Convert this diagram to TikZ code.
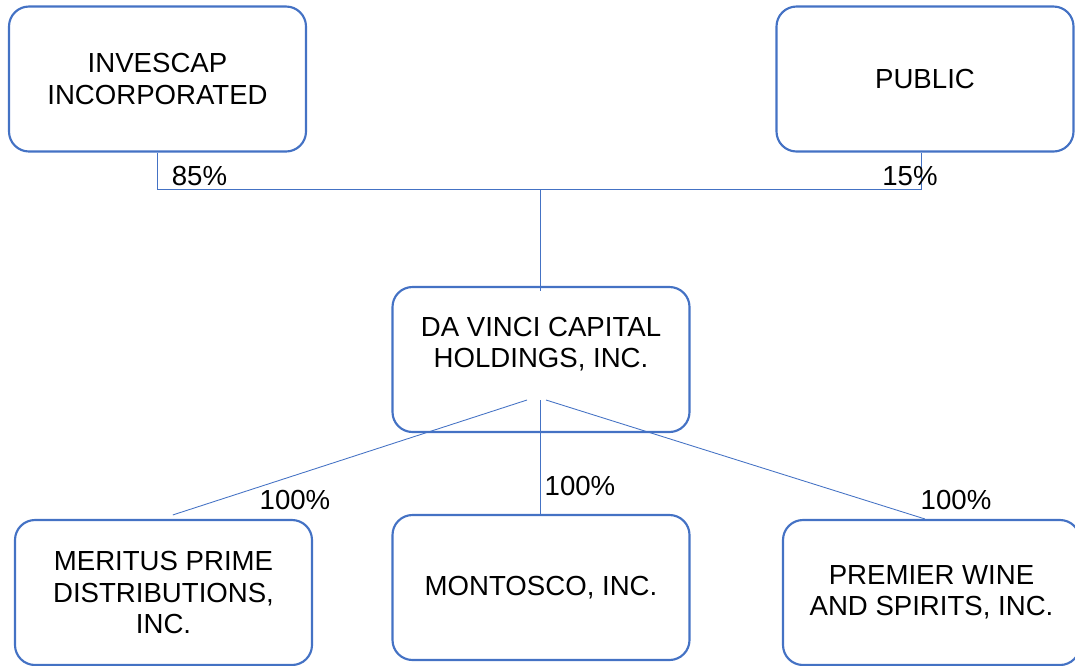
\documentclass[tikz,border=0pt]{standalone}
\usepackage{fontspec}
\setmainfont{Liberation Sans}
\definecolor{orgblue}{HTML}{4472C4}
\begin{document}
\begin{tikzpicture}[x=0.75pt, y=-0.75pt,
  every node/.style={font=\fontsize{20.7pt}{23.5pt}\selectfont},
  box/.style={draw=orgblue, line width=1.6pt, rounded corners=15pt, minimum width=222.75pt, minimum height=108.75pt, align=center, inner sep=0pt},
  txt/.style={align=center, inner sep=0pt},
  link/.style={draw=orgblue, line width=0.65pt}]
\useasboundingbox (0,0) rectangle (1075,665);
\node[box] (invescap) at (157.5,79) {INVESCAP\\INCORPORATED};
\node[box] (public) at (925,79) {PUBLIC};
\node[box] (davinci) at (541,359.5) {};
\node[txt] (davincitext) at (541,344) {DA VINCI CAPITAL\\HOLDINGS, INC.};
\node[box] (meritus) at (163.5,592.5) {MERITUS PRIME\\DISTRIBUTIONS,\\INC.};
\node[box] (montosco) at (541,587.5) {MONTOSCO, INC.};
\node[box] (premier) at (931.5,592.5) {PREMIER WINE\\AND SPIRITS, INC.};
\coordinate (split) at (540,189);
\coordinate (hubL) at (527,400); \coordinate (hubM) at (540,400); \coordinate (hubR) at (546,400);
\draw[link] (invescap.south) |- (split);
\draw[link] ([xshift=-2.5pt]public.south) |- (split);
\draw[link] (split) -- ([xshift=-0.75pt,yshift=-4pt]davinci.north);
\draw[link] (hubL) -- ([xshift=7pt,yshift=3pt]meritus.north);
\draw[link] (hubM) -- ([xshift=-0.75pt]montosco.north);
\draw[link] (hubR) -- ([xshift=-5pt]premier.north);
\node (pinvescap) at (199.5,176) {85\%};
\node (ppublic) at (910,176) {15\%};
\node (pmeritus) at (295,500) {100\%};
\node (pmontosco) at (580,486) {100\%};
\node (ppremier) at (956,500) {100\%};
\end{tikzpicture}
\end{document}
